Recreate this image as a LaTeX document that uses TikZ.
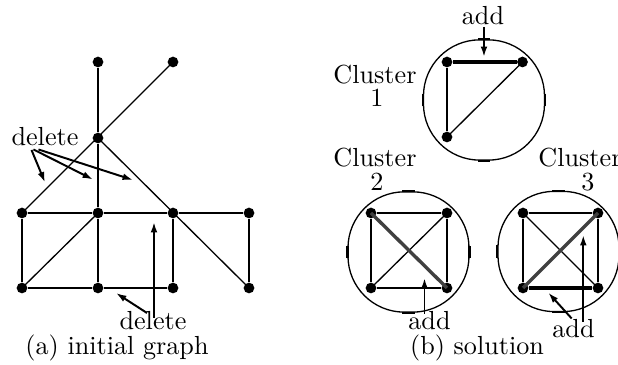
\documentclass[tikz,border=0pt]{standalone}
\usetikzlibrary{arrows.meta}
\begin{document}
\begin{tikzpicture}[x=0.3825pt,y=-0.3825pt,
  dot/.style={circle,fill=black,inner sep=0pt,minimum size=4.1pt},
  thk/.style={line width=1.05pt},
  thn/.style={line width=0.5pt},
  addedge/.style={line width=1.7pt},
  grayedge/.style={line width=1.3pt,draw=black!75},
  lbl/.style={anchor=base,inner sep=0pt},
  arr/.style={line width=0.75pt,-{Latex[length=4pt,width=2.6pt]}},
  cluster/.style={draw,line width=0.5pt,minimum width=46.3pt,minimum height=46pt,rounded corners=21.5pt,inner sep=0pt},
  tick/.style={line width=0.9pt}
]
\useasboundingbox (0,0) rectangle (618,365);

% ---- (a) initial graph ----
\node[dot] (t1) at (98,62) {};
\node[dot] (t2) at (173,62) {};
\node[dot] (m) at (98,138) {};
\node[dot] (a1) at (22,213) {};
\node[dot] (a2) at (98,213) {};
\node[dot] (a3) at (173,213) {};
\node[dot] (a4) at (249,213) {};
\node[dot] (b1) at (22,288) {};
\node[dot] (b2) at (98,288) {};
\node[dot] (b3) at (173,288) {};
\node[dot] (b4) at (249,288) {};

\draw[thk] (t1) -- (m);
\draw[thk] (m) -- (a2);
\draw[thk] (a1) -- (a2);
\draw[thk] (a2) -- (a3);
\draw[thk] (a3) -- (a4);
\draw[thk] (a1) -- (b1);
\draw[thk] (a2) -- (b2);
\draw[thk] (a3) -- (b3);
\draw[thk] (a4) -- (b4);
\draw[thk] (b1) -- (b2);
\draw[thk] (b2) -- (b3);
\draw[thn] (t2.center) -- (a1.center);
\draw[thn] (m.center) -- (b4.center);
\draw[thn] (a2.center) -- (b1.center);

\node[lbl] (del1) at (45,146) {delete};
\coordinate (d1s) at (31.5,150);
\coordinate (d1e) at (45,182.5);
\coordinate (d2s) at (33.5,149.5);
\coordinate (d2e) at (93,179.5);
\coordinate (d3s) at (38.5,149.5);
\coordinate (d3e) at (133,180);
\draw[arr] (d1s) -- (d1e);
\draw[arr] (d2s) -- (d2e);
\draw[arr] (d3s) -- (d3e);

\node[lbl] (del2) at (153,330) {delete};
\coordinate (d4s) at (154,318);
\coordinate (d4e) at (154,222);
\coordinate (d5s) at (147,313);
\coordinate (d5e) at (116,293);
\draw[arr] (d4s) -- (d4e);
\draw[arr] (d5s) -- (d5e);

\node[lbl] (capa) at (117,355) {(a) initial graph};

% ---- (b) solution ----
\node[cluster] (c1) at (484,100) {};
\node[cluster] (c2) at (408.5,252) {};
\node[cluster] (c3) at (558.5,251.5) {};
\foreach \c in {c1,c2,c3}{
  \draw[tick] ([xshift=-2.3pt]\c.north) -- ([xshift=2.3pt]\c.north);
  \draw[tick] ([xshift=-2.3pt]\c.south) -- ([xshift=2.3pt]\c.south);
  \draw[tick] ([yshift=-2.3pt]\c.west) -- ([yshift=2.3pt]\c.west);
  \draw[tick] ([yshift=-2.3pt]\c.east) -- ([yshift=2.3pt]\c.east);
}

% cluster 1
\node[dot] (p1) at (447,62) {};
\node[dot] (p2) at (522.5,62) {};
\node[dot] (p3) at (447,137) {};
\draw[addedge] (p1) -- (p2);
\draw[thk] (p1) -- (p3);
\draw[thn] (p3.center) -- (p2.center);

% cluster 2
\node[dot] (q1) at (371,213) {};
\node[dot] (q2) at (447,213) {};
\node[dot] (q3) at (371,288) {};
\node[dot] (q4) at (447,288) {};
\draw[thk] (q1) -- (q2);
\draw[thk] (q3) -- (q4);
\draw[thk] (q1) -- (q3);
\draw[thk] (q2) -- (q4);
\draw[thn] (q3.center) -- (q2.center);
\draw[grayedge] (q1.center) -- (q4.center);

% cluster 3
\node[dot] (r1) at (523,213) {};
\node[dot] (r2) at (598,213) {};
\node[dot] (r3) at (523,288) {};
\node[dot] (r4) at (598,288) {};
\draw[thk] (r1) -- (r2);
\draw[thk] (r1) -- (r3);
\draw[thk] (r2) -- (r4);
\draw[thn] (r1.center) -- (r4.center);
\draw[grayedge] (r3.center) -- (r2.center);
\draw[addedge] (r3) -- (r4);

% labels
\node[lbl] (k1a) at (375,84) {Cluster};
\node[lbl] (k1b) at (377,107) {1};
\node[lbl] (k2a) at (375,167) {Cluster};
\node[lbl] (k2b) at (377,190.5) {2};
\node[lbl] (k3a) at (580,167) {Cluster};
\node[lbl] (k3b) at (588,190.5) {3};

\node[lbl] (add1) at (483,25) {add};
\coordinate (a1s) at (484,27);
\coordinate (a1e) at (484,57);
\draw[arr] (a1s) -- (a1e);

\node[lbl] (add2) at (429.5,330) {add};
\coordinate (a2s) at (424.5,314);
\coordinate (a2e) at (424.5,278);
\draw[arr] (a2s) -- (a2e);

\node[lbl] (add3) at (573.5,338) {add};
\coordinate (a3s) at (583.3,322);
\coordinate (a3e) at (583.3,235);
\coordinate (a4s) at (571.7,318.5);
\coordinate (a4e) at (548.3,292.7);
\draw[arr] (a3s) -- (a3e);
\draw[arr] (a4s) -- (a4e);

\node[lbl] (capb) at (477,355) {(b) solution};
\end{tikzpicture}
\end{document}
